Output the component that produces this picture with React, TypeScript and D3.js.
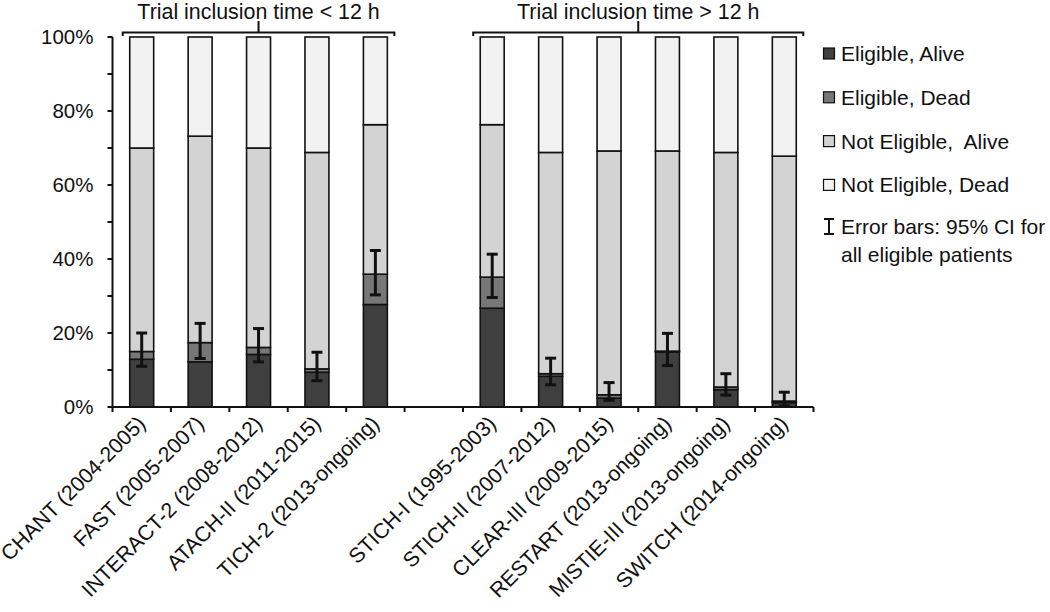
import React from "react";
import * as d3 from "d3";

const trials = [
  "CHANT (2004-2005)",
  "FAST (2005-2007)",
  "INTERACT-2 (2008-2012)",
  "ATACH-II (2011-2015)",
  "TICH-2 (2013-ongoing)",
  "",
  "STICH-I (1995-2003)",
  "STICH-II (2007-2012)",
  "CLEAR-III (2009-2015)",
  "RESTART (2013-ongoing)",
  "MISTIE-III (2013-ongoing)",
  "SWITCH (2014-ongoing)",
];
// values in percent
const eligibleAlive = [12.9, 12.2, 14.2, 9.4, 27.7, 0, 26.7, 8.3, 2.4, 14.9, 4.7, 1.2];
const eligibleDead = [2.1, 5.2, 1.9, 0.9, 8.2, 0, 8.4, 0.7, 0.9, 0.2, 0.7, 0.4];
const notEligibleAlive = [55.0, 55.8, 53.9, 58.5, 40.4, 0, 41.2, 59.8, 65.9, 54.1, 63.4, 66.2];
const notEligibleDead = [30.0, 26.8, 30.0, 31.2, 23.7, 0, 23.7, 31.2, 30.8, 30.8, 31.2, 32.2];
const ciLow = [11.0, 13.1, 12.2, 7.1, 30.3, 0, 29.6, 6.0, 1.8, 11.2, 3.2, 0.3];
const ciHigh = [20.0, 22.6, 21.2, 14.8, 42.3, 0, 41.3, 13.2, 6.6, 19.9, 9.0, 4.0];
const yTicks = [0, 10, 20, 30, 40, 50, 60, 70, 80, 90, 100];
const groups = [
  { label: "Trial inclusion time < 12 h", first: 0, last: 4 },
  { label: "Trial inclusion time > 12 h", first: 6, last: 11 },
];
const seriesNames = ["Eligible, Alive", "Eligible, Dead", "Not Eligible,\u00a0 Alive", "Not Eligible, Dead"];
const seriesColors = ["#3f3f3f", "#777777", "#d3d3d3", "#f2f2f2"];

const W = 1050;
const H = 612;
const left = 112.5;
const right = 813.5;
const top = 37;
const bottom = 407;
const font = "Liberation Sans, Arial, sans-serif";

export default function App() {
  const x = d3.scaleBand<number>().domain(d3.range(trials.length)).range([left, right]).padding(0);
  const y = d3.scaleLinear().domain([0, 100]).range([bottom, top]);
  const bw = x.bandwidth() * 0.41;
  const stackData = trials.map((t, i) => ({
    i,
    s0: eligibleAlive[i],
    s1: eligibleDead[i],
    s2: notEligibleAlive[i],
    s3: notEligibleDead[i],
  }));
  const stacked = d3.stack<any>().keys(["s0", "s1", "s2", "s3"])(stackData);
  const cx = (i: number) => (x(i) as number) + x.bandwidth() / 2;

  return (
    <svg width={W} height={H} style={{ position: "absolute", left: 0, top: 0, background: "#fff" }} fontFamily={font}>
      {/* bars */}
      {stacked.map((layer, si) => (
        <g key={si}>
          {layer.map((d, i) =>
            trials[i] === "" ? null : (
              <rect
                key={i}
                x={cx(i) - bw / 2}
                width={bw}
                y={y(d[1])}
                height={y(d[0]) - y(d[1])}
                fill={seriesColors[si]}
                stroke="#111"
                strokeWidth={1.6}
              />
            )
          )}
        </g>
      ))}
      {/* error bars */}
      {trials.map((t, i) =>
        t === "" ? null : (
          <g key={"e" + i} stroke="#111" strokeWidth={3}>
            <line x1={cx(i)} x2={cx(i)} y1={y(ciLow[i])} y2={y(ciHigh[i])} />
            <line x1={cx(i) - 5.5} x2={cx(i) + 5.5} y1={y(ciLow[i])} y2={y(ciLow[i])} />
            <line x1={cx(i) - 5.5} x2={cx(i) + 5.5} y1={y(ciHigh[i])} y2={y(ciHigh[i])} />
          </g>
        )
      )}
      {/* y axis */}
      <line x1={left} x2={left} y1={top} y2={bottom} stroke="#111" strokeWidth={2} />
      {yTicks.map((v) => (
        <g key={"y" + v}>
          <line x1={left - 5} x2={left} y1={y(v)} y2={y(v)} stroke="#111" strokeWidth={2} />
          {v % 20 === 0 && (
            <text x={left - 19} y={y(v)} dy="0.36em" textAnchor="end" fontSize={20.5} fill="#111">
              {v + "%"}
            </text>
          )}
        </g>
      ))}
      {/* x axis */}
      <line x1={left} x2={right} y1={bottom} y2={bottom} stroke="#111" strokeWidth={2} />
      {d3.range(trials.length + 1).map((k) => {
        const xx = left + k * x.step();
        return <line key={"xt" + k} x1={xx} x2={xx} y1={bottom} y2={bottom + 5} stroke="#111" strokeWidth={2} />;
      })}
      {trials.map((t, i) =>
        t === "" ? null : (
          <text
            key={"xl" + i}
            transform={`translate(${cx(i) + 5},${bottom + 18}) rotate(-45)`}
            textAnchor="end"
            fontSize={21.2}
            fill="#111"
          >
            {t}
          </text>
        )
      )}
      {/* group brackets */}
      {groups.map((g, gi) => {
        const x1 = cx(g.first) - 19;
        const x2 = cx(g.last) + 19;
        const mid = (cx(g.first) + cx(g.last)) / 2;
        return (
          <g key={"g" + gi}>
            <path
              d={`M${x1},36 L${x1},32.5 L${x2},32.5 L${x2},36 M${mid},32.5 L${mid},21`}
              fill="none"
              stroke="#111"
              strokeWidth={2}
            />
            <text x={mid} y={18.5} textAnchor="middle" fontSize={21.4} fill="#111">
              {g.label}
            </text>
          </g>
        );
      })}
      {/* legend */}
      {seriesNames.map((n, k) => {
        const ly = 53.5 + k * 43.8;
        return (
          <g key={"l" + k}>
            <rect x={823.5} y={ly - 5.5} width={11} height={11} fill={seriesColors[k]} stroke="#111" strokeWidth={1.2} />
            <text x={841} y={ly} dy="0.36em" fontSize={21} fill="#111">
              {n}
            </text>
          </g>
        );
      })}
      <g>
        <path
          d={`M824,${219} L834,${219} M829,${219} L829,${234} M824,${234} L834,${234}`}
          stroke="#111"
          strokeWidth={2}
          fill="none"
        />
        <text x={841} y={226} dy="0.36em" fontSize={21} fill="#111">
          Error bars: 95% CI for
        </text>
        <text x={841} y={254} dy="0.36em" fontSize={21} fill="#111">
          all eligible patients
        </text>
      </g>
    </svg>
  );
}
